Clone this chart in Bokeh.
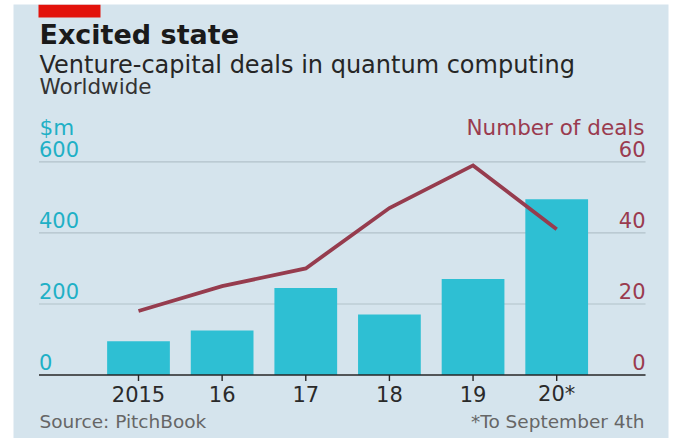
from bokeh.plotting import figure
from bokeh.models import Range1d, Label, BoxAnnotation
from bokeh.core.properties import value
from bokeh.embed import file_html
from bokeh.resources import INLINE

# ---- data ----
years = ["2015", "16", "17", "18", "19", "20*"]
funding_musd = [95, 125, 245, 170, 270, 495]
deals = [18, 25, 30, 47, 59, 41]
left_ticks = [0, 200, 400, 600]
left_tick_labels = ["0", "200", "400", "600"]
right_ticks = [0, 20, 40, 60]
right_tick_labels = ["0", "20", "40", "60"]

# ---- style ----
FONT = "DejaVu Sans"
BG = "#d5e4ed"
TEAL = "#2ebfd3"
TEAL_TXT = "#1fb0c6"
MAROON = "#963c4e"
MAROON_TXT = "#9a3b4f"
GRID = "#b2c2ca"
AXIS = "#262626"

idx = list(range(len(years)))
gx0, gx1 = -1.19, 6.062  # extent of gridlines (layout)

p = figure(width=673, height=438, output_backend="svg", toolbar_location=None,
           x_axis_location=None, y_axis_location=None, title=None,
           min_border_left=13, min_border_top=4, min_border_right=5, min_border_bottom=0,
           x_range=Range1d(-1.4945, 6.3367), y_range=Range1d(-178.7, 1042.8),
           background_fill_color=BG, border_fill_color="white", outline_line_color=None)
p.extra_y_ranges = {"deals": Range1d(-17.87, 104.28)}
p.grid.visible = False

# gridlines
p.segment(x0=[gx0] * 3, x1=[gx1] * 3, y0=left_ticks[1:], y1=left_ticks[1:],
          line_color=GRID, line_width=1.1)

# bars
p.vbar(x=idx, top=funding_musd, bottom=0, width=0.75, fill_color=TEAL, line_color=None)

# baseline axis and ticks
p.segment(x0=[gx0], x1=[gx1], y0=[0], y1=[0], line_color=AXIS, line_width=1.6)
p.segment(x0=idx, x1=idx, y0=[0] * len(idx), y1=[-17] * len(idx), line_color=AXIS, line_width=1.4)

# deals line
p.line(x=idx, y=deals, y_range_name="deals", line_color=MAROON, line_width=3.8,
       line_join="miter")

# tick labels
p.text(x=idx, y=[0] * len(idx), text=years, text_align="center", text_baseline="alphabetic",
       y_offset=19, text_font=value(FONT), text_font_size="21px", text_color="#2a2a2a")
p.text(x=[gx0] * 4, y=left_ticks, text=left_tick_labels, text_align="left",
       text_baseline="alphabetic", y_offset=-13, text_font=value(FONT), text_font_size="21px",
       text_color=TEAL_TXT)
p.text(x=[gx1] * 4, y=right_ticks, text=right_tick_labels, y_range_name="deals",
       text_align="right", text_baseline="alphabetic", y_offset=-13, text_font=value(FONT),
       text_font_size="21px", text_color=MAROON_TXT)

# red tag
p.add_layout(BoxAnnotation(left=25, right=87, top=434, bottom=421,
                           left_units="screen", right_units="screen",
                           top_units="screen", bottom_units="screen",
                           fill_color="#e3120b", fill_alpha=1, line_color=None))


def lab(text, x, y, size, color, bold=False, align="left"):
    p.add_layout(Label(x=x, y=y, x_units="screen", y_units="screen", text=text,
                       text_font=FONT, text_font_size=size, text_color=color,
                       text_font_style="bold" if bold else "normal",
                       text_align=align, text_baseline="alphabetic"))


lab("Excited state", 26, 404, "27px", "#1a1a1a", bold=True)
lab("Venture-capital deals in quantum computing", 26, 374, "24px", "#262626")
lab("Worldwide", 26, 352, "21.5px", "#333333")
lab("$m", 26, 311, "21.5px", TEAL_TXT)
lab("Number of deals", 631, 311, "21.5px", MAROON_TXT, align="right")
lab("Source: PitchBook", 26, 17, "18.5px", "#666666")
lab("*To September 4th", 631, 17, "18.5px", "#666666", align="right")

open("out.html", "w").write(file_html(p, INLINE))
